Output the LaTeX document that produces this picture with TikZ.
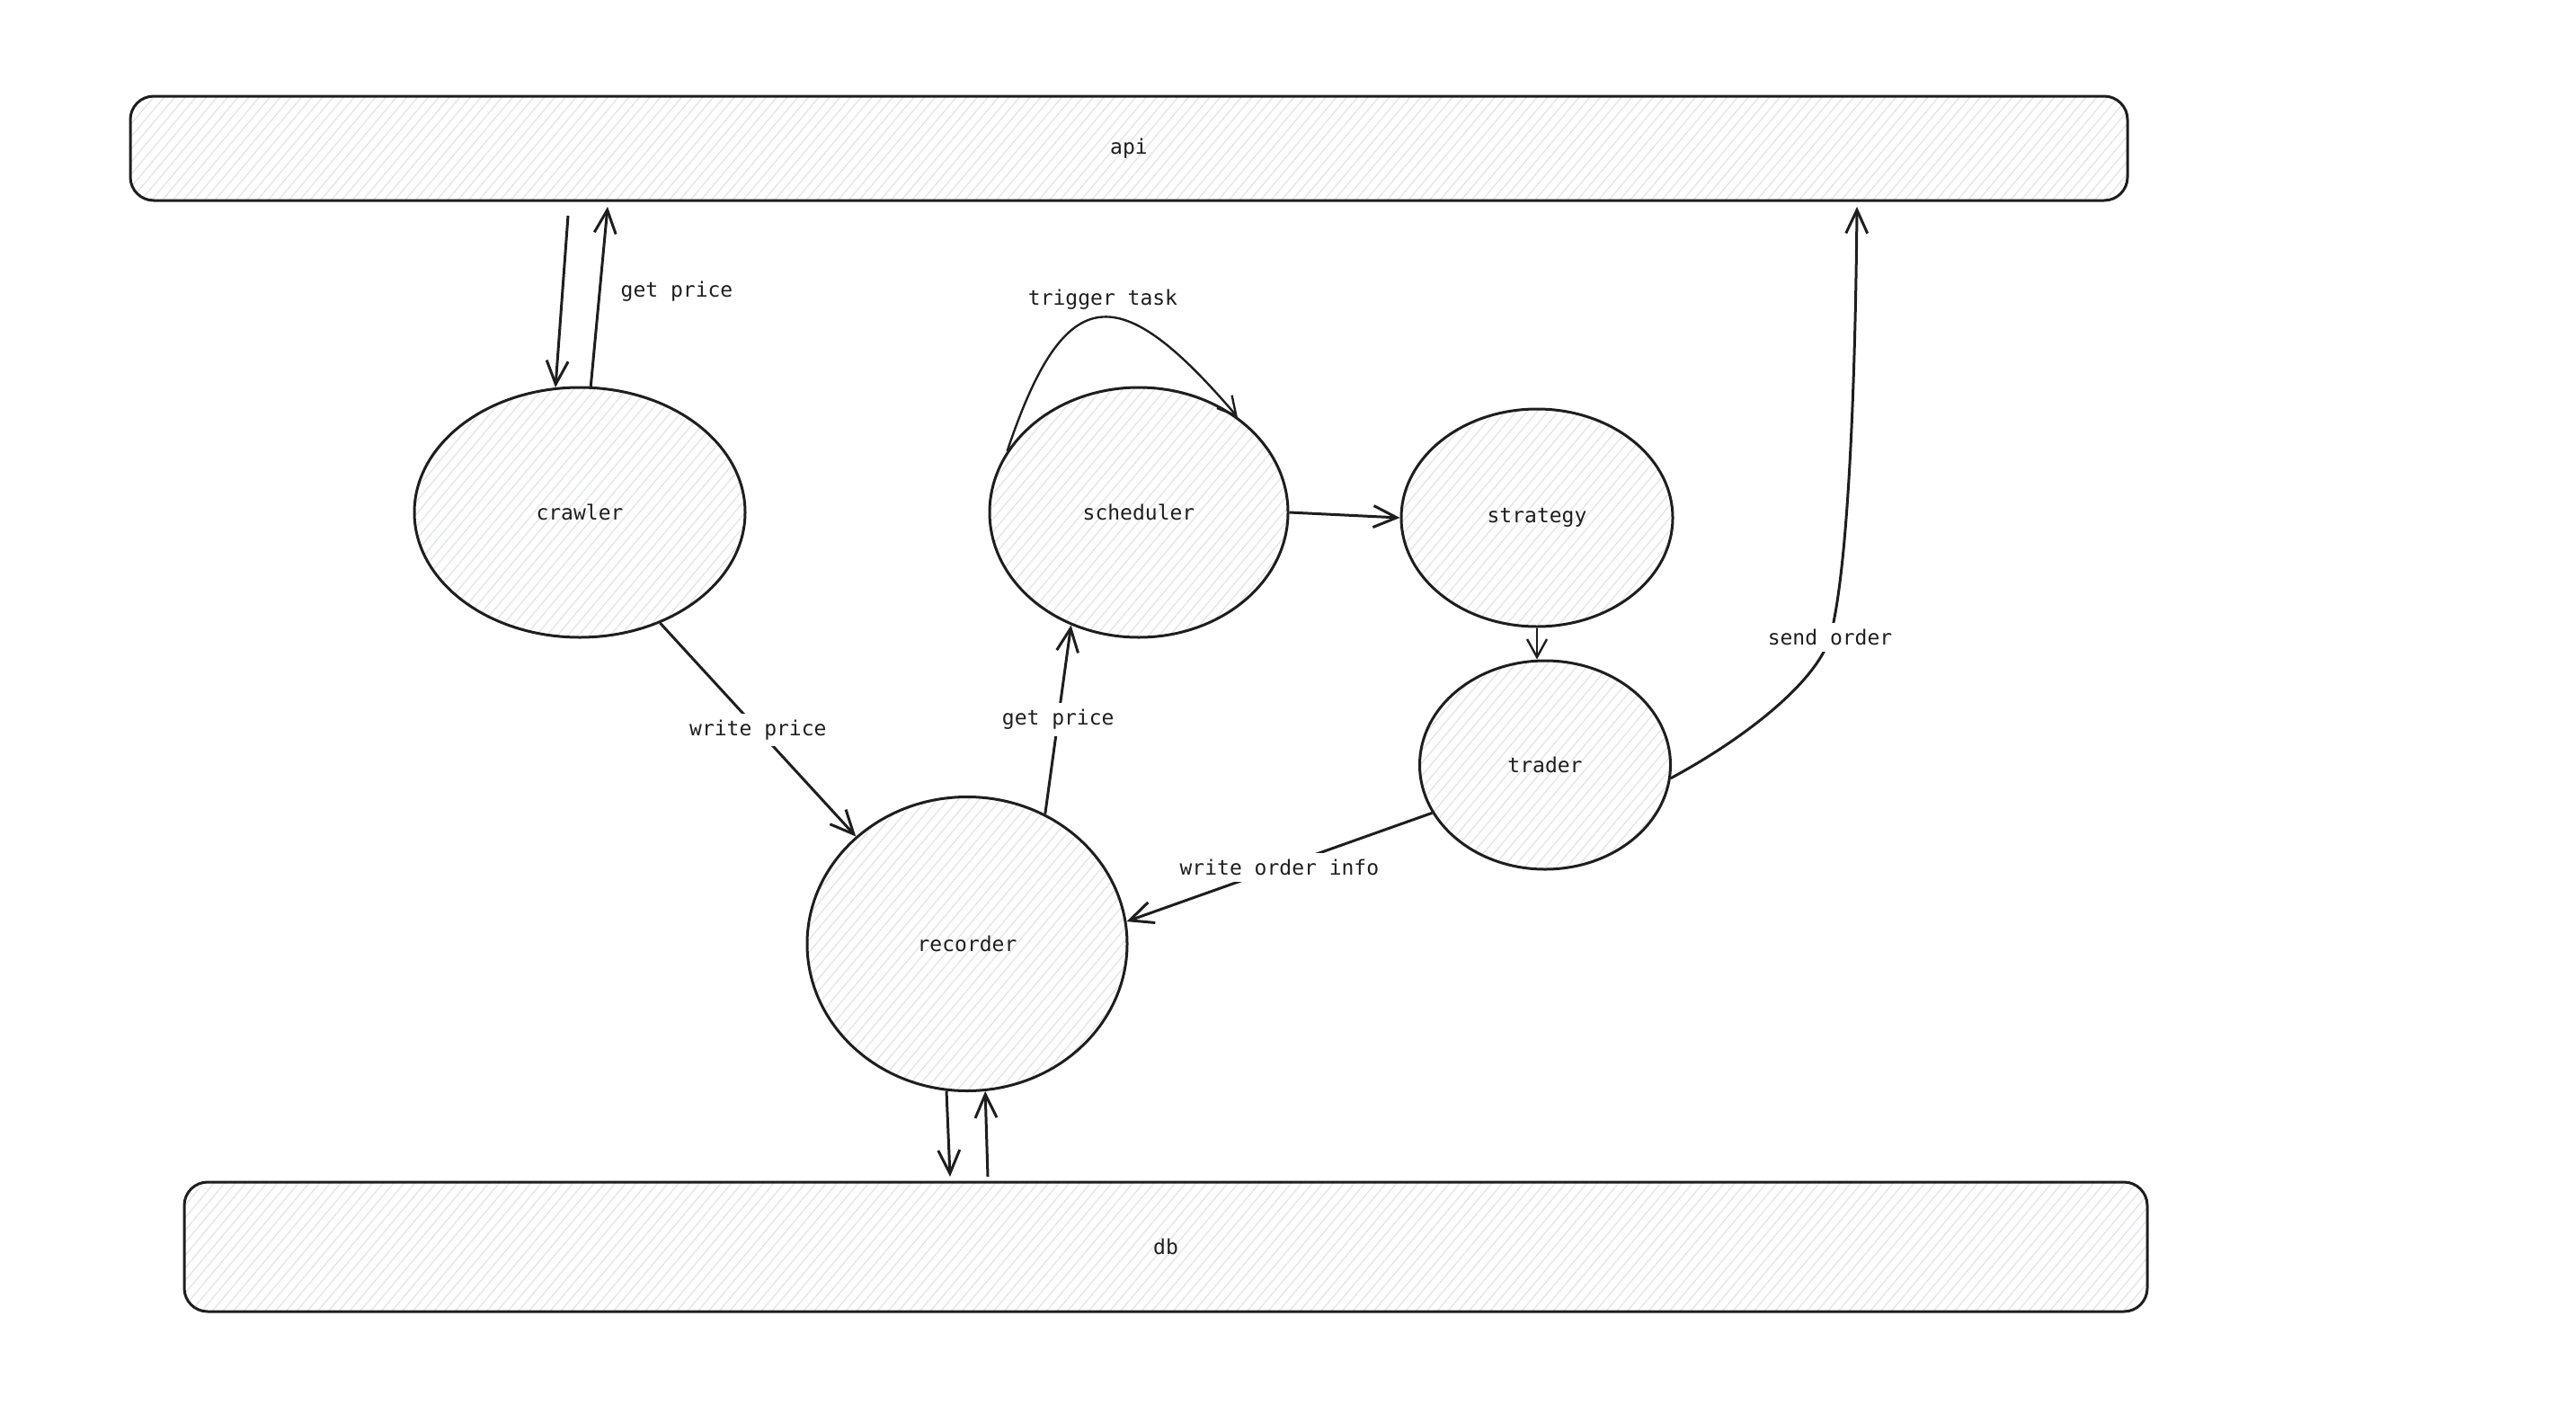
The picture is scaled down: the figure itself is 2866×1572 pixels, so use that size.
\documentclass[tikz,border=0pt]{standalone}
\usepackage{fontspec}
\setmonofont{DejaVu Sans Mono}
\usetikzlibrary{arrows.meta,positioning,shapes.geometric,patterns.meta}
\definecolor{ink}{HTML}{1E1E1E}
\definecolor{hatch}{HTML}{E2E4E7}
\tikzset{blob/.style={ellipse,draw=ink,line width=3pt,pattern={Lines[angle=50,distance=9pt,line width=1.3pt]},pattern color=hatch,inner sep=0pt,font=\ttfamily\fontsize{23}{28}\selectfont,text=ink},bar/.style={rectangle,rounded corners=26pt,draw=ink,line width=3pt,pattern={Lines[angle=50,distance=9pt,line width=1.3pt]},pattern color=hatch,inner sep=0pt,font=\ttfamily\fontsize{23}{28}\selectfont,text=ink},flow/.style={-{Straight Barb[length=26pt,width=24pt,line width=3pt]},line width=3pt,draw=ink},thinflow/.style={-{Straight Barb[length=20pt,width=22pt,line width=2.4pt]},line width=2.4pt,draw=ink},lbl/.style={fill=white,inner sep=7pt,font=\ttfamily\fontsize{23}{28}\selectfont,text=ink}}

\begin{document}
\begin{tikzpicture}[x=1pt,y=-1pt]
\useasboundingbox (0,0) rectangle (2866,1572);
\node[bar,minimum width=2222pt,minimum height=116pt] (api) at (1256,165) {api};
\node[bar,minimum width=2184pt,minimum height=144pt] (db) at (1297,1387) {db};
\node[blob,minimum width=368pt,minimum height=278pt] (crawler) at (645,570) {crawler};
\node[blob,minimum width=332pt,minimum height=278pt] (scheduler) at (1267,570) {scheduler};
\node[blob,minimum width=302pt,minimum height=242pt] (strategy) at (1710,576) {strategy};
\node[blob,minimum width=279pt,minimum height=232pt] (trader) at (1719,851) {trader};
\node[blob,minimum width=356pt,minimum height=327pt] (recorder) at (1076,1050) {recorder};
% free ends next to api and db
\coordinate (api1) at (632,240);
\coordinate (api2) at (676,230);
\coordinate (api3) at (2066,230);
\coordinate (db1) at (1057,1309);
\coordinate (db2) at (1099,1309);
\draw[flow] (api1) -- (crawler.101);
\draw[flow] (crawler.85) -- (api2);
\node[lbl,fill=none] (gp) at (753,324) {get price};
\draw[thinflow] (scheduler.155) .. controls (1185,310) and (1245,310) .. (scheduler.44);
\node[lbl,fill=none] (trig) at (1227,333) {trigger task};
\draw[flow] (scheduler.east) -- (strategy.west);
\draw[thinflow] (strategy.south) -- (strategy.south |- trader.north);
\draw[flow] (crawler.-54) -- node[lbl]{write price} (recorder.136);
\draw[flow] (recorder.59) -- node[lbl]{get price} (scheduler.-121);
\draw[flow] (trader.203) -- node[lbl]{write order info} (recorder.8);
\draw[flow] (trader.-6) .. controls (1940,822) and (2020,760) .. (2036,709) node[lbl]{send order} .. controls (2055,640) and (2064,450) .. (api3);
\draw[flow] (recorder.-98) -- (db1);
\draw[flow] (db2) -- (recorder.-83);
\end{tikzpicture}
\end{document}
